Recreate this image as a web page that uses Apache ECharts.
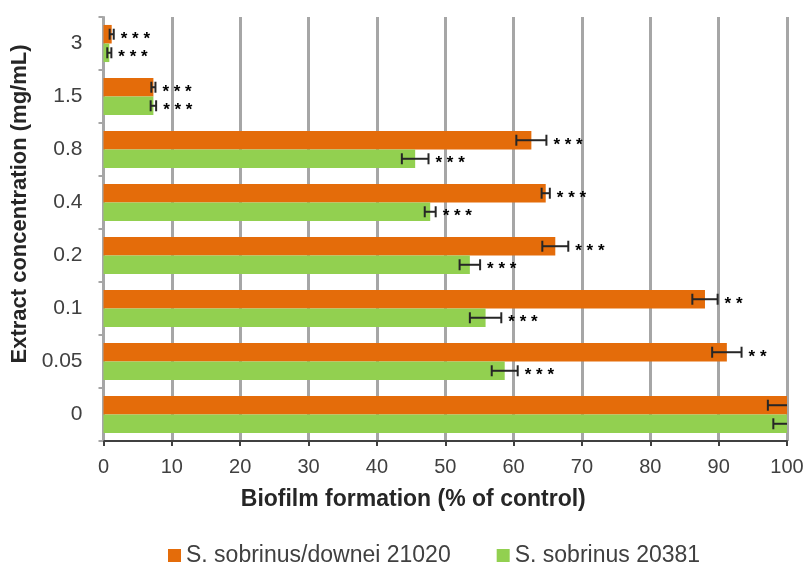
<!DOCTYPE html>
<html>
<head>
<meta charset="utf-8">
<script src="https://cdn.jsdelivr.net/npm/echarts@6/dist/echarts.min.js"></script>
<style>html,body{margin:0;padding:0;background:#fff;}#c{width:807px;height:567px;}</style>
</head>
<body>
<div id="c"></div>
<script>
const categories = ['3', '1.5', '0.8', '0.4', '0.2', '0.1', '0.05', '0'];
const seriesNames = ['S. sobrinus/downei 21020', 'S. sobrinus 20381'];
const orangeValues = [1.2, 7.3, 62.6, 64.7, 66.1, 88.0, 91.2, 100];
const orangeErrors = [0.3, 0.3, 2.2, 0.6, 1.9, 1.85, 2.15, 2.8];
const orangeSig = ['***', '***', '***', '***', '***', '**', '**', ''];
const greenValues = [0.85, 7.3, 45.6, 47.8, 53.6, 55.9, 58.7, 100];
const greenErrors = [0.3, 0.4, 1.95, 0.8, 1.5, 2.3, 1.9, 2.0];
const greenSig = ['***', '***', '***', '***', '***', '***', '***', ''];
const xTicks = [0, 10, 20, 30, 40, 50, 60, 70, 80, 90, 100];

const FONT = "'Liberation Sans', Arial, sans-serif";
const ORANGE = '#E46C0A';
const GREEN = '#92D050';
const TEXT = '#404040';
const CAT_GAP = 0.30;

function errorSeries(values, errors, sig, sign) {
  return {
    type: 'custom',
    z: 5,
    silent: true,
    data: values.map((v, i) => [v, i, errors[i]]),
    encode: { x: 0, y: 1 },
    renderItem: function (params, api) {
      const v = api.value(0), idx = api.value(1), e = api.value(2);
      const c = api.coord([v, idx]);
      const band = Math.abs(api.size([0, 1])[1]);
      const bw = band * (1 - CAT_GAP) / 2;
      const y = c[1] + sign * bw / 2;
      const hi = Math.min(v + e, 100);
      const xl = api.coord([v - e, idx])[0];
      const xr = api.coord([hi, idx])[0];
      const cap = 5.5;
      const st = { stroke: '#262626', lineWidth: 2 };
      const children = [
        { type: 'line', shape: { x1: xl, y1: y, x2: xr, y2: y }, style: st },
        { type: 'line', shape: { x1: xl, y1: y - cap, x2: xl, y2: y + cap }, style: st }
      ];
      if (v + e <= 100) {
        children.push({ type: 'line', shape: { x1: xr, y1: y - cap, x2: xr, y2: y + cap }, style: st });
      }
      const s = sig[params.dataIndex];
      if (s) {
        children.push({
          type: 'text',
          x: xr + 7, y: y + 5,
          style: {
            text: s.split('').join(' '),
            fill: '#000000',
            font: 'bold 17px ' + FONT,
            align: 'left',
            verticalAlign: 'middle'
          }
        });
      }
      return { type: 'group', children: children };
    }
  };
}

const chart = echarts.init(document.getElementById('c'), null, { renderer: 'canvas' });
chart.setOption({
  animation: false,
  backgroundColor: '#ffffff',
  textStyle: { fontFamily: FONT },
  grid: { left: 103.5, right: 20, top: 17, bottom: 126 },
  legend: {
    data: seriesNames,
    left: 163,
    top: 539,
    icon: 'rect',
    itemWidth: 13,
    itemHeight: 13,
    itemGap: 46,
    textStyle: { fontSize: 23, color: TEXT, fontFamily: FONT }
  },
  xAxis: {
    type: 'value',
    min: xTicks[0],
    max: xTicks[xTicks.length - 1],
    interval: xTicks[1] - xTicks[0],
    name: 'Biofilm formation (% of control)',
    nameLocation: 'middle',
    nameGap: 47,
    nameTextStyle: { fontSize: 23, fontWeight: 'bold', color: '#262626', fontFamily: FONT, padding: [0, 64, 0, 0] },
    axisLine: { show: true, lineStyle: { color: '#404040', width: 2 } },
    axisTick: { show: true, length: 5, lineStyle: { color: '#404040', width: 2 } },
    axisLabel: { fontSize: 20, color: TEXT, margin: 16, fontFamily: FONT },
    splitLine: { show: true, lineStyle: { color: '#a6a6a6', width: 3 } }
  },
  yAxis: {
    type: 'category',
    inverse: true,
    data: categories,
    name: 'Extract concentration (mg/mL)',
    nameLocation: 'middle',
    nameRotate: 90,
    nameGap: 66,
    nameTextStyle: { fontSize: 22, fontWeight: 'bold', color: '#262626', fontFamily: FONT, padding: [0, 0, 0, 50] },
    axisLine: { show: true, lineStyle: { color: '#a6a6a6', width: 2 } },
    axisTick: { show: true, length: 5, lineStyle: { color: '#a6a6a6', width: 2 } },
    axisLabel: { fontSize: 21, color: TEXT, margin: 21, fontFamily: FONT },
    splitLine: { show: false }
  },
  series: [
    {
      name: seriesNames[0], type: 'bar', data: orangeValues,
      itemStyle: { color: ORANGE }, barGap: '0%', barCategoryGap: (CAT_GAP * 100) + '%', z: 2
    },
    {
      name: seriesNames[1], type: 'bar', data: greenValues,
      itemStyle: { color: GREEN }, barGap: '0%', barCategoryGap: (CAT_GAP * 100) + '%', z: 2
    },
    errorSeries(orangeValues, orangeErrors, orangeSig, -1),
    errorSeries(greenValues, greenErrors, greenSig, 1)
  ]
});
</script>
</body>
</html>
